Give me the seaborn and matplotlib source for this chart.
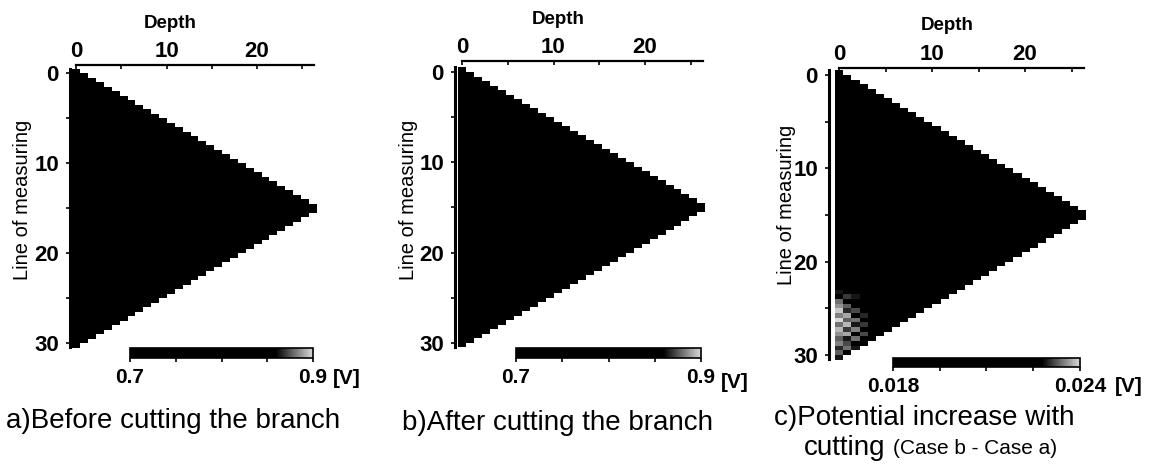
import numpy as np
import pandas as pd
import matplotlib
matplotlib.use('Agg')
import matplotlib.pyplot as plt
from matplotlib.colors import LinearSegmentedColormap
import seaborn as sns

# ---- data ----
depth_ticks = [0, 10, 20]
depth_minor = [5, 15, 25]
row_ticks = [0, 10, 20, 30]
row_minor = [5, 15, 25]

# number of filled depth cells in each half-row of the measured triangle
row_widths = [1, 2, 3, 4, 5, 6, 7, 8, 9, 10, 11, 12, 13, 14, 15, 16,
              17, 18, 19, 20, 21, 22, 23, 24, 25, 26, 27, 28, 29, 30, 31,
              31, 30, 29, 28, 27, 26, 25, 24, 23, 22, 21, 20, 19, 18, 17,
              16, 15, 14, 13, 12, 11, 10, 9, 8, 7, 6, 5, 4, 3, 2, 1]
cell_depth = 27 / 31      # depth units per cell
cell_row = 0.5            # measuring-line units per cell
grid_start = (-0.4, -0.5)  # (depth, row) of the upper-left cell corner

potential_before = 0.74   # [V], the whole section reads black
potential_after = 0.75
increase_base = 0.0195    # [V]
# lighter zone at the bottom-left of panel c (half-rows 46.., cells 0..5)
patch_first_row = 46
increase_patch = [
    [0.0224, 0.0218, 0.0226, 0.0205, 0.0200, 0.0198],
    [0.0229, 0.0222, 0.0216, 0.0223, 0.0203, 0.0199],
    [0.0227, 0.0231, 0.0229, 0.0216, 0.0210, 0.0201],
    [0.0234, 0.0226, 0.0224, 0.0228, 0.0213, 0.0204],
    [0.0236, 0.0233, 0.0228, 0.0222, 0.0227, 0.0206],
    [0.0239, 0.0230, 0.0232, 0.0225, 0.0215, 0.0209],
    [0.0235, 0.0237, 0.0227, 0.0230, 0.0226, 0.0212],
    [0.0240, 0.0233, 0.0234, 0.0226, 0.0218, 0.0214],
    [0.0234, 0.0238, 0.0229, 0.0231, 0.0227, 0.0216],
    [0.0238, 0.0231, 0.0235, 0.0227, 0.0221, 0.0219],
    [0.0236, 0.0237, 0.0228, 0.0232, 0.0224, 0.0222],
    [0.0233, 0.0229, 0.0234, 0.0226, 0.0226, 0.0223],
    [0.0235, 0.0232, 0.0228, 0.0228, 0.0225, 0.0224],
    [0.0230, 0.0234, 0.0229, 0.0227, 0.0224, 0.0223],
    [0.0233, 0.0228, 0.0228, 0.0226, 0.0224, 0.0223],
    [0.0229, 0.0229, 0.0227, 0.0225, 0.0223, 0.0222],
]

cbar_ranges = [(0.7, 0.9), (0.7, 0.9), (0.018, 0.024)]
cbar_labels = [['0.7', '0.9'], ['0.7', '0.9'], ['0.018', '0.024']]
captions = ['a)Before cutting the branch', 'b)After cutting the branch',
            'c)Potential increase with']

# ---- layout in pixels ----
W, H = 1151, 472
layout = [
    dict(d0=76, r0=73, sx=9.05, sy=9.0, sp_x=70, sp_y=65,
         cb=(130, 348, 313, 358), cb_ty=378, v_off=20,
         depth_lab=(170, 24), ylab=(23, 200), cap=(6, 421)),
    dict(d0=462, r0=72, sx=9.15, sy=9.03, sp_x=455, sp_y=61,
         cb=(516, 348, 701, 358), cb_ty=382, v_off=20,
         depth_lab=(558, 19), ylab=(409, 200), cap=(402, 423)),
    dict(d0=839, r0=75, sx=9.3, sy=9.33, sp_x=829, sp_y=68,
         cb=(893, 358, 1080, 367), cb_ty=387, v_off=35,
         depth_lab=(947, 25), ylab=(786, 205), cap=(774, 418)),
]

sns.set_style('white')
plt.rcParams['font.family'] = ['Liberation Sans', 'DejaVu Sans']
plt.rcParams['text.color'] = 'black'
plt.rcParams['xtick.color'] = 'black'
plt.rcParams['ytick.color'] = 'black'
plt.rcParams['axes.edgecolor'] = 'black'

cmap = LinearSegmentedColormap.from_list(
    'scan', [(0.0, '#000000'), (0.8, '#000000'), (0.9, '#6e6e6e'),
             (1.0, '#d8d8d8')])

fig = plt.figure(figsize=(W / 100, H / 100), dpi=100)


def box(l, t, r, b):
    return [l / W, 1 - b / H, (r - l) / W, (b - t) / H]


n_rows, n_cols = len(row_widths), max(row_widths)
mask = np.ones((n_rows, n_cols), dtype=bool)
for k, w in enumerate(row_widths):
    mask[k, :w] = False

grids = [np.full((n_rows, n_cols), potential_before),
         np.full((n_rows, n_cols), potential_after),
         np.full((n_rows, n_cols), increase_base)]
patch = np.array(increase_patch)
grids[2][patch_first_row:patch_first_row + patch.shape[0], :patch.shape[1]] = patch


def ux(d):
    return (np.asarray(d, float) - grid_start[0]) / cell_depth


def vy(r):
    return (np.asarray(r, float) - grid_start[1]) / cell_row


for i, lay in enumerate(layout):
    right_px = lay['d0'] + 27.2 * lay['sx']
    bottom_px = lay['r0'] + 30.8 * lay['sy']
    ax = fig.add_axes(box(lay['sp_x'], lay['sp_y'], right_px, bottom_px))
    vmin, vmax = cbar_ranges[i]
    df = pd.DataFrame(grids[i])
    sns.heatmap(df, mask=mask, cmap=cmap, vmin=vmin, vmax=vmax, cbar=False,
                ax=ax, xticklabels=False, yticklabels=False, linewidths=0)
    d_lo = (lay['sp_x'] - lay['d0']) / lay['sx']
    d_hi = (right_px - lay['d0']) / lay['sx']
    r_lo = (lay['sp_y'] - lay['r0']) / lay['sy']
    r_hi = (bottom_px - lay['r0']) / lay['sy']
    ax.set_xlim(ux(d_lo), ux(d_hi))
    ax.set_ylim(vy(r_hi), vy(r_lo))

    for s in ax.spines.values():
        s.set_visible(False)
    ax.spines['top'].set_visible(True)
    ax.spines['left'].set_visible(True)
    ax.spines['top'].set_linewidth(1.6)
    ax.spines['left'].set_linewidth(2.2)
    ax.spines['top'].set_bounds(ux(0), ux(26.3))
    ax.spines['left'].set_bounds(vy(30.4), vy(-0.5))

    ax.xaxis.tick_top()
    ax.set_xticks(ux(depth_ticks))
    ax.set_xticklabels([str(t) for t in depth_ticks])
    ax.set_xticks(ux(depth_minor), minor=True)
    ax.set_yticks(vy(row_ticks))
    ax.set_yticklabels([str(t) for t in row_ticks])
    ax.set_yticks(vy(row_minor), minor=True)
    ax.tick_params(axis='x', which='both', direction='in', top=True,
                   bottom=False, length=3, width=1.2, pad=2)
    ax.tick_params(axis='y', which='both', direction='out', left=True,
                   length=3, width=1.2, pad=5)
    for lab in ax.get_xticklabels() + ax.get_yticklabels():
        lab.set_fontweight('bold')
        lab.set_fontsize(16)
    ax.set_xlabel('')
    ax.set_ylabel('')

    fig.text(lay['depth_lab'][0] / W, 1 - lay['depth_lab'][1] / H, 'Depth',
             ha='center', va='center', fontsize=13.5, fontweight='bold')
    fig.text(lay['ylab'][0] / W, 1 - lay['ylab'][1] / H, 'Line of measuring',
             ha='center', va='center', rotation=90, fontsize=14.5)

    # colour bar
    l, t, r, b = lay['cb']
    cax = fig.add_axes(box(l, t, r, b))
    cb = fig.colorbar(ax.collections[0], cax=cax, orientation='horizontal')
    cb.outline.set_linewidth(1.2)
    step = (vmax - vmin) / 4
    cb.set_ticks([vmin, vmax])
    cb.set_ticklabels(cbar_labels[i])
    cax.set_xticks([vmin + step, vmin + 2 * step, vmin + 3 * step], minor=True)
    cax.tick_params(which='both', direction='out', length=3, width=1.2,
                    pad=4)
    for lab in cax.get_xticklabels():
        lab.set_fontweight('bold')
        lab.set_fontsize(15)
    fig.text((r + lay['v_off']) / W, 1 - lay['cb_ty'] / H, '[V]',
             ha='left', va='center', fontweight='bold', fontsize=15)

    fig.text(lay['cap'][0] / W, 1 - lay['cap'][1] / H, captions[i],
             ha='left', va='center', fontsize=20)

fig.text(885 / W, 1 - 448 / H, 'cutting', ha='right', va='center',
         fontsize=20)
fig.text(893 / W, 1 - 449 / H, '(Case b - Case a)', ha='left', va='center',
         fontsize=15)

fig.savefig('out.png', dpi=100, facecolor='white')
